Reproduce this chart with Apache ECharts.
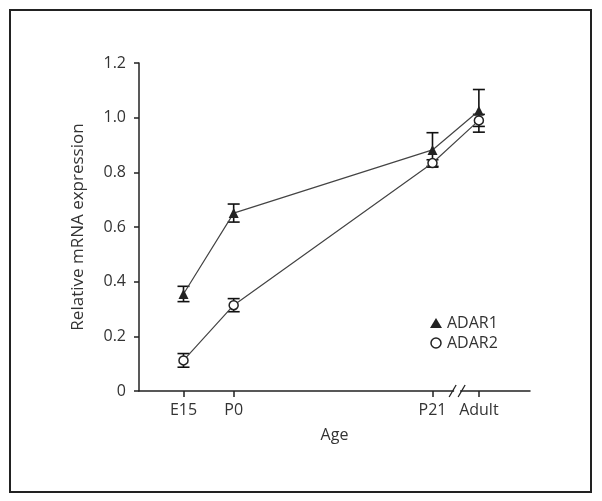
<!DOCTYPE html>
<html>
<head>
<meta charset="utf-8">
<script src="https://cdn.jsdelivr.net/npm/echarts@6/dist/echarts.min.js"></script>
<style>
html,body{margin:0;padding:0;background:#fff;}
#c{width:602px;height:501px;}
</style>
</head>
<body>
<div id="c"></div>
<script>
// Data
var ageLabels = ['E15', 'P0', 'P21', 'Adult'];
var agePos = [-5.3, 0, 21, 25.9];
var adar1Mean = [0.355, 0.651, 0.882, 1.025];
var adar1Err = [0.028, 0.033, 0.063, 0.078];
var adar2Mean = [0.112, 0.314, 0.834, 0.990];
var adar2Err = [0.025, 0.024, 0.012, 0.022];
var yTicks = [0, 0.2, 0.4, 0.6, 0.8, 1.0, 1.2];

var chart = echarts.init(document.getElementById('c'));
var FONT = '"Open Sans", "DejaVu Sans", sans-serif';
var TXT = '#333';
var FS = 16;

function pts(means) { return means.map(function (m, i) { return [agePos[i], m]; }); }
function errData(means, errs) { return means.map(function (m, i) { return [agePos[i], m - errs[i], m + errs[i]]; }); }

function errRender(params, api) {
  var x = api.value(0);
  var lo = api.coord([x, api.value(1)]);
  var hi = api.coord([x, api.value(2)]);
  var hw = 6;
  var st = { stroke: '#111', lineWidth: 1.6 };
  return {
    type: 'group',
    children: [
      { type: 'line', shape: { x1: lo[0], y1: lo[1], x2: hi[0], y2: hi[1] }, style: st },
      { type: 'line', shape: { x1: hi[0] - hw, y1: hi[1], x2: hi[0] + hw, y2: hi[1] }, style: st },
      { type: 'line', shape: { x1: lo[0] - hw, y1: lo[1], x2: lo[0] + hw, y2: lo[1] }, style: st }
    ]
  };
}

var option = {
  backgroundColor: '#fff',
  animation: false,
  grid: { left: 139, right: 72, top: 63, bottom: 110, containLabel: false },
  legend: {
    orient: 'vertical',
    left: 425,
    top: 310,
    itemGap: 4,
    itemWidth: 12,
    itemHeight: 10,
    textStyle: { fontFamily: FONT, fontSize: FS, color: TXT, padding: [0, 0, 0, 0] },
    data: [
      { name: 'ADAR1', icon: 'triangle', itemStyle: { color: '#222', borderWidth: 0 } },
      { name: 'ADAR2', icon: 'circle', itemStyle: { color: '#fff', borderColor: '#222', borderWidth: 1.5 } }
    ]
  },
  xAxis: {
    type: 'value',
    min: -10,
    max: 31.3,
    name: 'Age',
    nameLocation: 'middle',
    nameGap: 36,
    nameTextStyle: { fontFamily: FONT, fontSize: FS, color: TXT },
    splitLine: { show: false },
    axisLine: { show: true, onZero: false, lineStyle: { color: '#222', width: 1.5 } },
    axisTick: { show: true, customValues: agePos, length: 6, lineStyle: { color: '#222', width: 1.5 } },
    axisLabel: {
      customValues: agePos,
      margin: 11,
      fontFamily: FONT, fontSize: FS, color: TXT,
      formatter: function (v) {
        for (var i = 0; i < agePos.length; i++) { if (Math.abs(agePos[i] - v) < 1e-6) return ageLabels[i]; }
        return '';
      }
    }
  },
  yAxis: {
    type: 'value',
    min: 0,
    max: 1.2,
    interval: 0.2,
    name: 'Relative mRNA expression',
    nameLocation: 'middle',
    nameGap: 52,
    nameTextStyle: { fontFamily: FONT, fontSize: 17, color: TXT },
    splitLine: { show: false },
    axisLine: { show: true, onZero: false, lineStyle: { color: '#222', width: 1.5 } },
    axisTick: { show: true, inside: false, length: 5, lineStyle: { color: '#222', width: 1.5 } },
    axisLabel: {
      margin: 13,
      fontFamily: FONT, fontSize: FS, color: TXT,
      formatter: function (v) { return v === 0 ? '0' : v.toFixed(1); }
    }
  },
  series: [
    {
      name: 'ADAR1 err', type: 'custom', renderItem: errRender,
      data: errData(adar1Mean, adar1Err), z: 3, silent: true
    },
    {
      name: 'ADAR2 err', type: 'custom', renderItem: errRender,
      data: errData(adar2Mean, adar2Err), z: 3, silent: true
    },
    {
      name: 'ADAR1', type: 'line', data: pts(adar1Mean),
      symbol: 'triangle', symbolSize: 10,
      lineStyle: { color: '#444', width: 1.2 },
      itemStyle: { color: '#222', borderWidth: 0 },
      z: 4
    },
    {
      name: 'ADAR2', type: 'line', data: pts(adar2Mean),
      symbol: 'circle', symbolSize: 9,
      lineStyle: { color: '#444', width: 1.2 },
      itemStyle: { color: '#fff', borderColor: '#222', borderWidth: 1.5 },
      z: 5
    }
  ]
};
chart.setOption(option);

// frame and axis break decoration
var brk = chart.convertToPixel({ gridIndex: 0 }, [23.6, 0]);
var bx = brk[0], by = brk[1];
chart.setOption({
  graphic: [
    { type: 'rect', shape: { x: 10, y: 10, width: 581, height: 482 }, style: { fill: 'none', stroke: '#222', lineWidth: 2 }, z: 100 },
    { type: 'rect', shape: { x: bx - 3, y: by - 3, width: 6, height: 6 }, style: { fill: '#fff' }, z: 100 },
    { type: 'line', shape: { x1: bx - 8, y1: by + 6, x2: bx - 1, y2: by - 6 }, style: { stroke: '#222', lineWidth: 1.3 }, z: 101 },
    { type: 'line', shape: { x1: bx + 1, y1: by + 6, x2: bx + 8, y2: by - 6 }, style: { stroke: '#222', lineWidth: 1.3 }, z: 101 }
  ]
});
</script>
</body>
</html>
